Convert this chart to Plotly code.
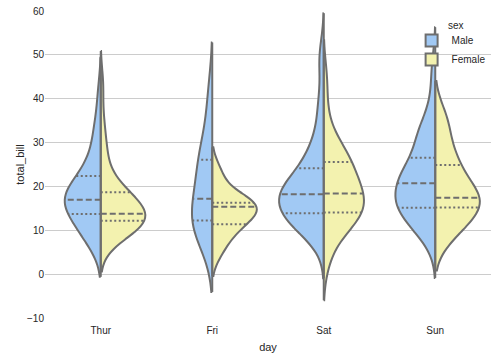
import numpy as np
import plotly.graph_objects as go

days = ["Thur", "Fri", "Sat", "Sun"]
sexes = ["Male", "Female"]

thur_male = [27.20, 22.76, 17.29, 19.44, 16.66, 32.68, 15.98, 13.03, 18.28, 24.71,
             21.16, 11.69, 14.26, 15.95, 8.52, 22.82, 19.08, 16.00, 34.30, 41.19,
             9.78, 7.51, 28.44, 15.48, 16.58, 7.56, 10.34, 13.51, 18.71, 20.53]
thur_female = [10.07, 34.83, 10.65, 12.43, 24.08, 13.42, 12.48, 29.80, 14.52, 11.38,
               20.27, 11.17, 12.26, 18.26, 8.51, 10.33, 14.15, 13.16, 17.47, 27.05,
               16.43, 8.35, 18.64, 11.87, 19.81, 43.11, 13.00, 12.74, 13.00, 16.40,
               16.47, 18.78]
fri_male = [28.97, 22.49, 40.17, 27.28, 12.03, 21.01, 12.46, 12.16, 8.58, 13.42]
fri_female = [5.75, 16.32, 22.75, 11.35, 15.38, 13.42, 15.98, 16.27, 10.09]
sat_male = [20.65, 17.92, 39.42, 19.82, 17.81, 13.37, 12.69, 21.70, 9.55, 18.35,
            17.78, 24.06, 16.31, 18.69, 31.27, 16.04, 38.01, 11.24, 48.27, 20.29,
            13.81, 11.02, 18.29, 17.59, 20.08, 20.23, 15.01, 12.02, 10.51, 17.92,
            15.36, 20.49, 25.21, 18.24, 14.00, 50.81, 15.81, 26.59, 38.73, 24.27,
            30.06, 25.89, 48.33, 28.15, 11.59, 7.74, 20.45, 13.28, 24.01, 15.69,
            11.61, 10.77, 15.53, 10.07, 12.60, 32.83, 29.03, 22.67, 17.82]
sat_female = [20.29, 15.77, 19.65, 15.06, 20.69, 16.93, 26.41, 16.45, 3.07, 17.07,
              26.86, 25.28, 14.73, 44.30, 22.42, 20.92, 14.31, 7.25, 10.59, 10.63,
              12.76, 13.27, 28.17, 12.90, 30.14, 22.12, 35.83, 27.18]
sun_male = [10.34, 21.01, 23.68, 25.29, 8.77, 26.88, 15.04, 14.78, 10.27, 15.42,
            18.43, 21.58, 16.29, 17.46, 13.94, 9.68, 30.40, 18.29, 22.23, 32.40,
            28.55, 18.04, 12.54, 9.94, 25.56, 19.49, 38.07, 23.95, 29.93, 14.07,
            13.13, 17.26, 24.55, 19.77, 48.17, 16.49, 21.50, 12.66, 13.81, 24.52,
            20.76, 31.71, 7.25, 31.85, 16.82, 32.90, 17.89, 14.48, 34.63, 34.65,
            23.33, 45.35, 23.17, 40.55, 20.69, 30.46, 23.10, 15.69]
sun_female = [16.99, 24.59, 35.26, 14.83, 10.33, 16.97, 10.29, 34.81, 25.71, 17.31,
              29.85, 25.00, 13.39, 16.21, 17.51, 9.60, 20.90, 18.15]

y_ticks = [-10, 0, 10, 20, 30, 40, 50, 60]

bill = {
    ("Thur", "Male"): thur_male, ("Thur", "Female"): thur_female,
    ("Fri", "Male"): fri_male, ("Fri", "Female"): fri_female,
    ("Sat", "Male"): sat_male, ("Sat", "Female"): sat_female,
    ("Sun", "Male"): sun_male, ("Sun", "Female"): sun_female,
}

colors = {"Male": "#A1C9F4", "Female": "#F3F2AF"}
edge = "#6E6E6E"
HALF = 0.4


def scott_bw(v):
    v = np.asarray(v, float)
    return v.std(ddof=1) * len(v) ** -0.2


def kde(v, bw, t):
    v = np.asarray(v, float)
    t = np.atleast_1d(np.asarray(t, float))
    z = (t[:, None] - v[None, :]) / bw
    return np.exp(-0.5 * z * z).sum(axis=1) / (len(v) * bw * np.sqrt(2 * np.pi))


def max_kde(v, bw):
    lo, hi = min(v) - 2 * bw, max(v) + 2 * bw
    n = int(np.ceil((hi - lo) / (bw / 3)))
    t = lo + np.arange(n + 1) * (hi - lo) / n
    return kde(v, bw, t).max()


fig = go.Figure()
for i, day in enumerate(days):
    bws = {s: scott_bw(bill[(day, s)]) for s in sexes}
    daymax = max(max_kde(bill[(day, s)], bws[s]) for s in sexes)
    for s in sexes:
        vals = bill[(day, s)]
        fig.add_trace(go.Violin(
            x=[i] * len(vals), y=vals, name=s, legendgroup=s, showlegend=(i == 0),
            side="negative" if s == "Male" else "positive",
            bandwidth=bws[s], spanmode="soft", scalegroup=day, scalemode="width",
            fillcolor=colors[s], line=dict(color=edge, width=2),
            points=False, hoveron="violins", opacity=1,
        ))
    for s in sexes:
        vals = bill[(day, s)]
        sign = -1 if s == "Male" else 1
        # centre edge of the half violin, over its KDE span
        fig.add_trace(go.Scatter(
            x=[i, i], y=[min(vals) - 2 * bws[s], max(vals) + 2 * bws[s]], mode="lines",
            line=dict(color=edge, width=2), showlegend=False, hoverinfo="skip",
        ))
        qs = np.percentile(vals, [25, 50, 75])
        for q, dash in zip(qs, ["2px,2.5px", "6px,3px", "2px,2.5px"]):
            w = kde(vals, bws[s], q)[0] / daymax * HALF
            fig.add_trace(go.Scatter(
                x=[i, i + sign * w], y=[q, q], mode="lines",
                line=dict(color=edge, width=2, dash=dash),
                showlegend=False, hoverinfo="skip",
            ))

font = "Liberation Sans, Arial, sans-serif"
fig.update_layout(
    width=498, height=356,
    margin=dict(l=45, r=7, t=11, b=38, autoexpand=False),
    paper_bgcolor="white", plot_bgcolor="white",
    violinmode="overlay", violingap=0.2, violingroupgap=0,
    font=dict(family=font, size=10, color="#262626"),
    showlegend=True,
    legend=dict(
        x=0.822, y=0.951, xanchor="left", yanchor="top",
        bgcolor="rgba(0,0,0,0)", tracegroupgap=0, font=dict(size=10),
    ),
    annotations=[dict(
        text="sex", xref="paper", yref="paper", x=0.899, y=0.954,
        xanchor="left", yanchor="middle", showarrow=False, font=dict(size=10),
    )],
    xaxis=dict(
        range=[-0.5, 3.5], tickvals=list(range(len(days))), ticktext=days,
        showgrid=False, zeroline=False, showline=False, ticks="", automargin=False,
        ticklabelstandoff=5,
        title=dict(text="day", font=dict(size=11), standoff=8),
    ),
    yaxis=dict(
        range=[-10, 60], tickvals=y_ticks, showgrid=True, gridcolor="#CCCCCC",
        gridwidth=1, zeroline=False, showline=False, ticks="", automargin=False,
        title=dict(text="total_bill", font=dict(size=11), standoff=0),
    ),
)

fig.write_html("out.html", config={"displayModeBar": False},
               post_script="document.body.style.margin='0';")
